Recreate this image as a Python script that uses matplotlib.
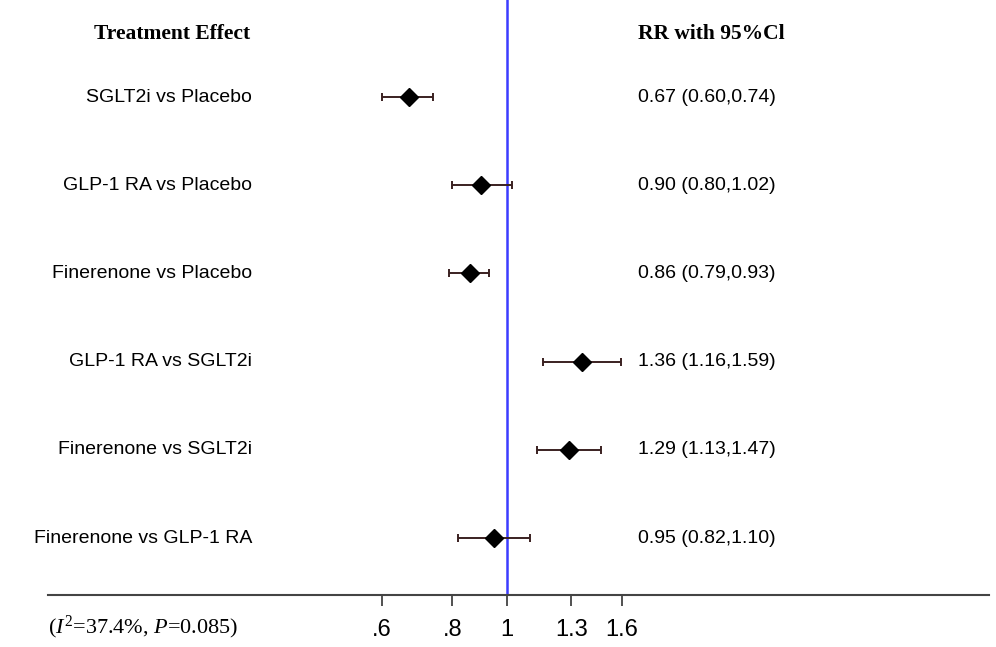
import numpy as np
import matplotlib
matplotlib.use('Agg')
import matplotlib.pyplot as plt
import matplotlib.transforms as mtransforms

plt.rcParams['mathtext.fontset'] = 'custom'
plt.rcParams['mathtext.rm'] = 'Liberation Serif'
plt.rcParams['mathtext.it'] = 'Liberation Serif:italic'

# data
comparisons = ['SGLT2i vs Placebo', 'GLP-1 RA vs Placebo', 'Finerenone vs Placebo',
               'GLP-1 RA vs SGLT2i', 'Finerenone vs SGLT2i', 'Finerenone vs GLP-1 RA']
rr = [0.67, 0.90, 0.86, 1.36, 1.29, 0.95]
lower = [0.60, 0.80, 0.79, 1.16, 1.13, 0.82]
upper = [0.74, 1.02, 0.93, 1.59, 1.47, 1.10]
tick_vals = [0.6, 0.8, 1.0, 1.3, 1.6]
tick_labels = ['.6', '.8', '1', '1.3', '1.6']

fig = plt.figure(figsize=(9.96, 6.47), dpi=100)
ax = fig.add_axes([48/996, 52/647, 941/996, 595/647])

y = np.arange(len(comparisons))
rr = np.array(rr)
xerr = [rr - np.array(lower), np.array(upper) - rr]

ax.axvline(1, color='#3c3cff', lw=1.8, zorder=1)
ax.errorbar(rr, y, xerr=xerr, fmt='none', ecolor='#3a2020', elinewidth=1.4,
            capsize=3, capthick=1.4, zorder=2)
ax.plot(rr, y, 'D', color='black', ms=9, zorder=3)

ax.set_xscale('log')
ax.set_xlim(0.1536, 7.15)
ax.set_ylim(5.646, -1.1)
ax.set_xticks(tick_vals)
ax.set_xticklabels(tick_labels, family='Liberation Sans')
ax.minorticks_off()
ax.tick_params(axis='x', direction='out', length=8, width=1.2, labelsize=17, pad=9,
               colors='#333333', labelcolor='black')
ax.set_yticks([])
for s in ['top', 'left', 'right']:
    ax.spines[s].set_visible(False)
ax.spines['bottom'].set_color('#444444')
ax.spines['bottom'].set_linewidth(1.5)

trans = mtransforms.blended_transform_factory(fig.transFigure, ax.transData)
for i, name in enumerate(comparisons):
    ax.text(252/996, i, name, transform=trans, ha='right', va='center',
            fontsize=14, family='Liberation Sans')
    ax.text(638/996, i, f'{rr[i]:.2f} ({lower[i]:.2f},{upper[i]:.2f})', transform=trans,
            ha='left', va='center', fontsize=14, family='Liberation Sans')

ax.text(172/996, -0.71, 'Treatment Effect', transform=trans, ha='center', va='center',
        fontsize=15.5, fontweight='bold', family='Liberation Serif')
ax.text(638/996, -0.71, 'RR with 95%Cl', transform=trans, ha='left', va='center',
        fontsize=15.5, fontweight='bold', family='Liberation Serif')

fig.text(48/996, 20/647, r'($\mathit{I}^{2}$=37.4%, $\mathit{P}$=0.085)', ha='left', va='center',
         fontsize=16, family='Liberation Serif')

fig.savefig('out.png', dpi=100)
